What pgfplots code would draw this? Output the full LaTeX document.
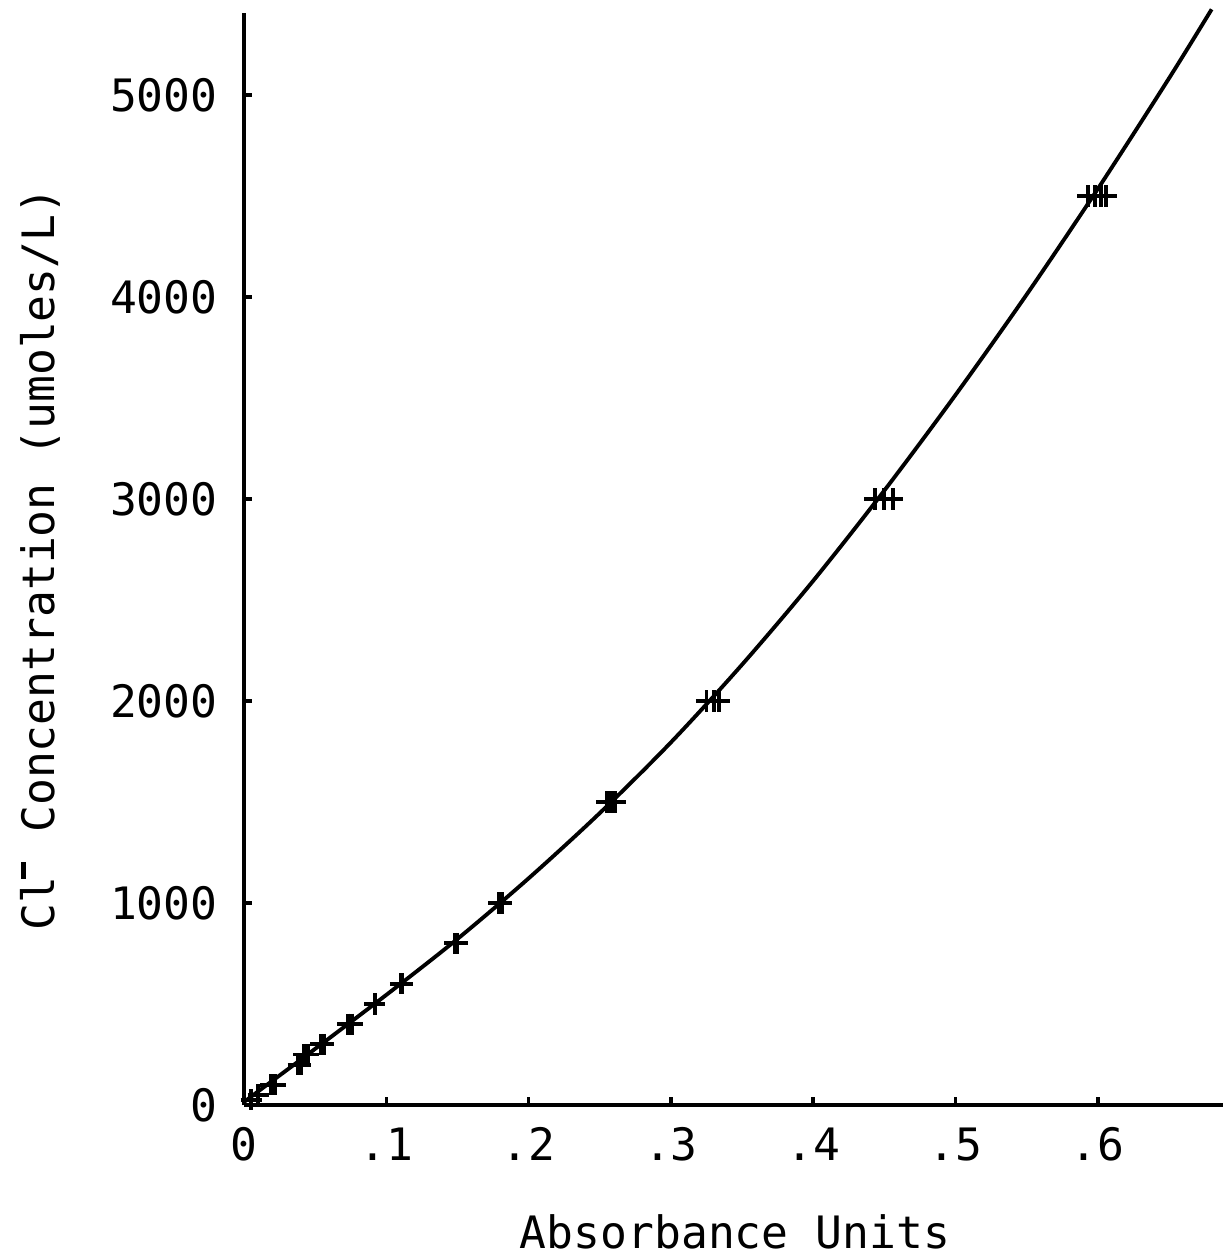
\documentclass[border=0pt]{standalone}
\usepackage{fontspec}
\setmainfont{DejaVu Sans Mono}
\usepackage{pgfplots}
\usepackage{pgfplotstable}
\pgfplotsset{compat=1.18}

\pgfplotstableread{
x y
0.000 15
0.050 278
0.100 545
0.150 822
0.200 1122
0.250 1445
0.300 1795
0.350 2180
0.400 2595
0.450 3042
0.500 3515
0.550 4012
0.600 4535
0.650 5082
0.680 5424
}\fitcurve

\pgfplotstableread{
x y
0.005 25
0.010 50
0.019 100
0.022 100
0.038 200
0.040 200
0.042 250
0.045 250
0.054 300
0.056 300
0.073 400
0.076 400
0.092 500
0.110 600
0.111 600
0.148 800
0.150 800
0.179 1000
0.181 1000
0.255 1500
0.258 1500
0.261 1500
0.325 2000
0.330 2000
0.334 2000
0.4434 3000
0.450 3000
0.456 3000
0.593 4500
0.598 4500
0.602 4500
0.606 4500
}\standards

\begin{document}
\begin{tikzpicture}
\useasboundingbox (-2.44,-1.52) rectangle (9.79,11.05);
\begin{axis}[
  at={(0,0)}, anchor=south west,
  scale only axis,
  width=9.79cm, height=10.92cm,
  xmin=0, xmax=0.688,
  ymin=0, ymax=5406,
  clip=false,
  axis x line=bottom, axis y line=left,
  axis line style={-, line width=1pt},
  tick style={line width=1pt, black},
  tick align=inside,
  major tick length=0.08cm,
  xtick={0,0.1,0.2,0.3,0.4,0.5,0.6},
  xticklabels={0,.1,.2,.3,.4,.5,.6},
  ytick={0,1000,2000,3000,4000,5000},
  yticklabels={0,1000,2000,3000,4000,5000},
  font=\fontsize{12.7}{15}\selectfont,
  /pgf/number format/assume math mode=true,
  xticklabel style={anchor=base, yshift=-0.55cm},
  yticklabel style={anchor=east, xshift=-0.14cm},
  xlabel={Absorbance Units},
  ylabel={Cl\kern-0.05em\raisebox{0.62em}{\rule{0.38em}{0.13em}}\kern0.05em\ Concentration (umoles/L)},
  xlabel style={at={(axis description cs:0.5015,-0.1163)}, anchor=center},
  ylabel style={at={(axis description cs:-0.2084,0.5)}, anchor=center},
]
\addplot[black, line width=1.1pt, smooth, no marks] table {\fitcurve};
\addplot[black, only marks, mark=+, mark size=3pt, mark options={line width=1.1pt}] table {\standards};
\end{axis}
\end{tikzpicture}
\end{document}
